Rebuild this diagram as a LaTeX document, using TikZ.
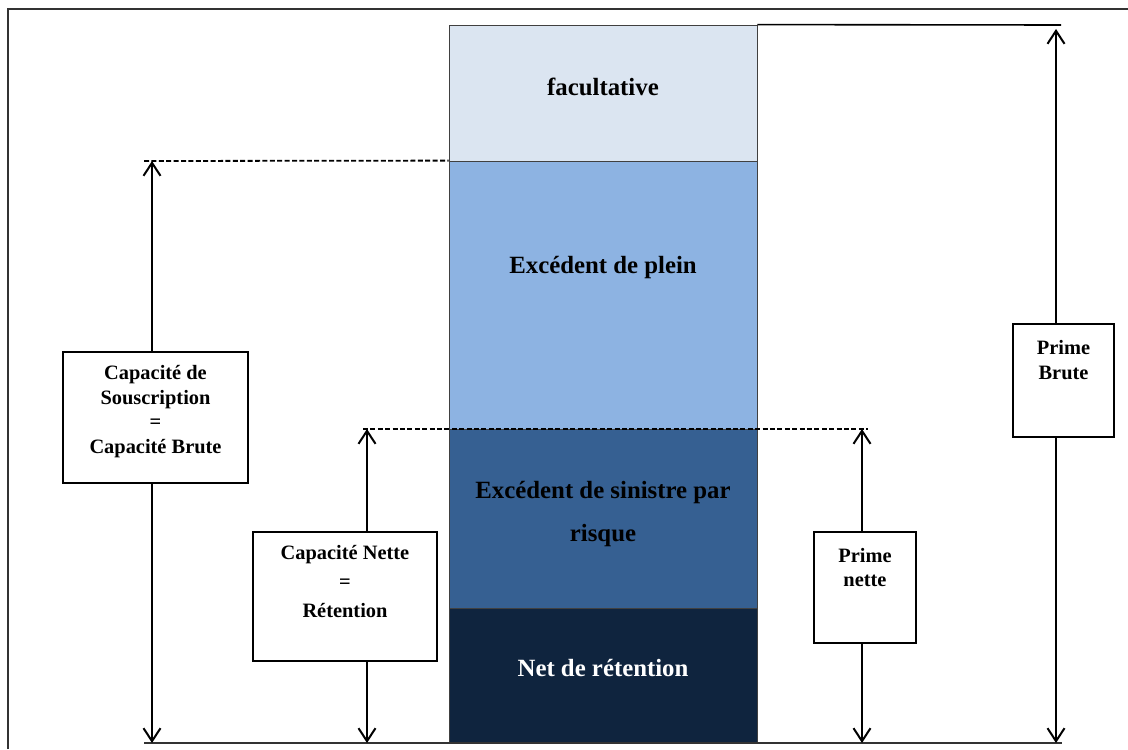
\documentclass[tikz,border=0pt]{standalone}
\usepackage{fontspec}
\setmainfont{Liberation Serif}
\usetikzlibrary{arrows.meta}

\definecolor{facul}{HTML}{DBE5F1}
\definecolor{plein}{HTML}{8DB3E2}
\definecolor{sinis}{HTML}{366092}
\definecolor{netret}{HTML}{0F243E}

\tikzstyle{block} = [draw=black!75, line width=0.4pt, minimum width=154pt, inner sep=0pt]
\tikzstyle{blocktext} = [font=\fontsize{12.4}{21.5}\selectfont\bfseries, align=center, inner sep=0pt]
\tikzstyle{box} = [draw, line width=0.8pt, fill=white, inner sep=0pt]
\tikzstyle{boxtext} = [font=\fontsize{10.2}{12.3}\selectfont\bfseries, align=center, inner sep=0pt]
\tikzstyle{dimline} = [line width=0.8pt, -{Straight Barb[length=6.5pt,width=8.5pt,line width=1pt]}]
\tikzstyle{guide} = [line width=0.9pt, dash pattern=on 2.5pt off 1.2pt]

\begin{document}
\begin{tikzpicture}[x=0.5pt, y=-0.5pt]
	\useasboundingbox (0,0) rectangle (1128,749);
	\draw[line width=0.7pt, black!80] (8,749) -- (8,9) -- (1128,9);
	
	\node[block, fill=facul, minimum height=68pt] (fac) at (603,93) {};
	\node[block, fill=plein, minimum height=134pt] (ple) at (603,295) {};
	\node[block, fill=sinis, minimum height=89.5pt] (sin) at (603,518.5) {};
	\node[block, fill=netret, minimum height=67.5pt] (net) at (603,675.5) {};
	
	\node[blocktext] (tfac) at (603,87) {facultative};
	\node[blocktext] (tple) at (603,268) {Excédent de plein};
	\node[blocktext] (tsin) at (603,514.5) {Excédent de sinistre par\\risque};
	\node[blocktext, text=white] (tnet) at (603,668) {Net de rétention};
	
	\coordinate (csT) at (152,161);
	\coordinate (csB) at (152,743);
	\coordinate (cnT) at (367,429);
	\coordinate (cnB) at (367,743);
	\coordinate (pnT) at (862,429);
	\coordinate (pnB) at (862,743);
	\coordinate (pbT) at (1056,29);
	\coordinate (pbB) at (1056,743);
	\coordinate (dashA) at (144,161);
	\coordinate (dashB) at (363,429);
	\coordinate (dashC) at (868,429);
	\coordinate (topR) at (1061,25);
	\coordinate (baseL) at (144,743);
	\coordinate (baseR) at (1062,743);
	
	\draw[line width=0.8pt] (fac.north east) -- (topR);
	\draw[line width=0.6pt, black!80] (baseL) -- (baseR);
	\draw[guide] (dashA) -- (ple.north west);
	\draw[guide] (dashB) -- (dashC);
	
	\node[box, minimum width=92.5pt, minimum height=65.5pt] (cs) at (155.5,417.5) {};
	\node[box, minimum width=92pt, minimum height=64.5pt] (cn) at (345,596.5) {};
	\node[box, minimum width=51pt, minimum height=55.5pt] (pn) at (865,587.5) {};
	\node[box, minimum width=50.5pt, minimum height=56.5pt] (pb) at (1063.5,380.5) {};
	
	\node[boxtext] (tcs) at (155.5,411.5) {Capacité de\\Souscription\\=\\Capacité Brute};
	\node[boxtext, font=\fontsize{10.2}{14.5}\selectfont\bfseries] (tcn) at (345,582) {Capacité Nette\\=\\Rétention};
	\node[boxtext] (tpn) at (865,567.5) {Prime\\nette};
	\node[boxtext] (tpb) at (1063.5,360) {Prime\\Brute};
	
	\draw[dimline] (cs.north -| csT) -- (csT);
	\draw[dimline] (cs.south -| csB) -- (csB);
	\draw[dimline] (cn.north -| cnT) -- (cnT);
	\draw[dimline] (cn.south -| cnB) -- (cnB);
	\draw[dimline] (pn.north -| pnT) -- (pnT);
	\draw[dimline] (pn.south -| pnB) -- (pnB);
	\draw[dimline] (pb.north -| pbT) -- (pbT);
	\draw[dimline] (pb.south -| pbB) -- (pbB);
\end{tikzpicture}
\end{document}
